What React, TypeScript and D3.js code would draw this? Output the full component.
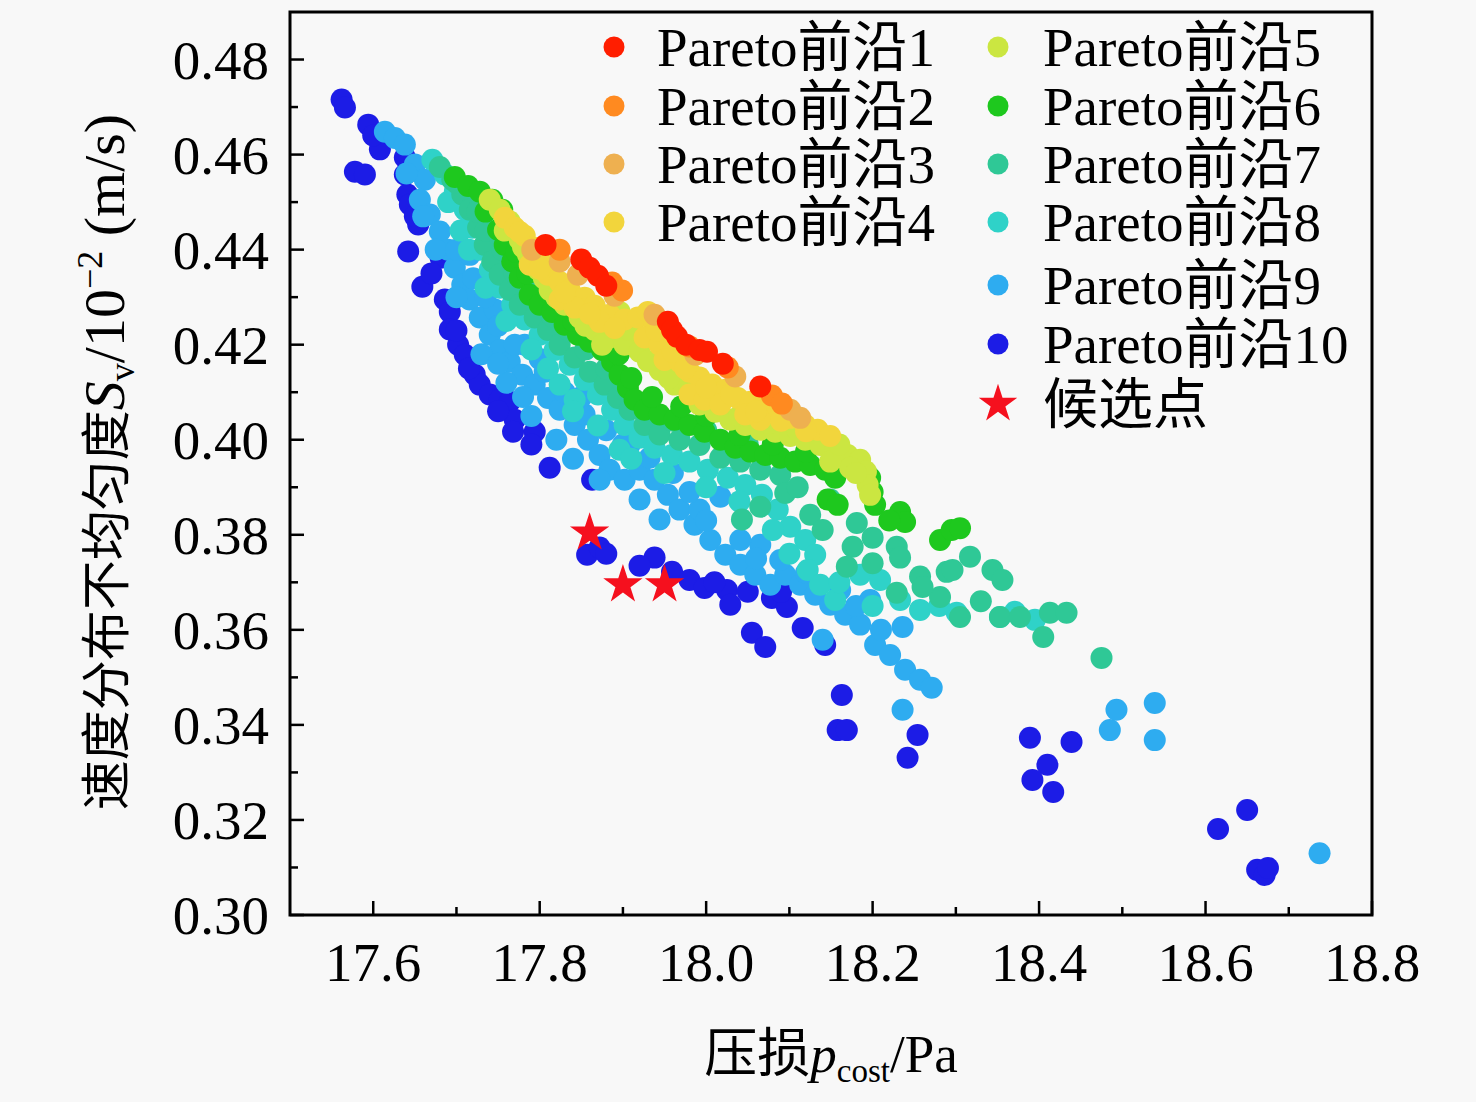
import * as d3 from 'd3';

// Pareto fronts: [pressure loss p_cost (Pa), velocity non-uniformity Sv (10^-2 m/s)]
const front1: [number, number][] = [
  [17.807, 0.441], [17.85, 0.4379], [17.86, 0.4362], [17.87, 0.4345], [17.88, 0.4324],
  [17.954, 0.4248], [17.959, 0.4231], [17.965, 0.4217], [17.976, 0.42], [17.992, 0.4189],
  [18.001, 0.4185], [18.02, 0.416], [18.065, 0.4112],
];
const front2: [number, number][] = [
  [17.824, 0.44], [17.899, 0.4314], [17.887, 0.4331], [17.98, 0.4196], [18.026, 0.4152],
  [18.079, 0.4093], [18.091, 0.4076],
];
const front3: [number, number][] = [
  [17.791, 0.44], [17.824, 0.4375], [17.846, 0.4347], [17.89, 0.4303], [17.938, 0.4263],
  [17.987, 0.4179], [18.035, 0.4133], [18.101, 0.4063], [18.113, 0.4046],
];
const front4: [number, number][] = [
  [17.758, 0.4467], [17.77, 0.4446], [17.782, 0.4429], [17.794, 0.4404], [17.806, 0.4383],
  [17.788, 0.4368], [17.81, 0.4347], [17.824, 0.4332], [17.836, 0.4315], [17.854, 0.4299],
  [17.824, 0.4295], [17.842, 0.4278], [17.866, 0.4282], [17.884, 0.4263], [17.872, 0.4248],
  [17.902, 0.4253], [17.918, 0.4257], [17.93, 0.4269], [17.938, 0.4242], [17.926, 0.4215],
  [17.944, 0.42], [17.95, 0.4168], [17.968, 0.4164], [17.98, 0.4143], [17.992, 0.4131],
  [18.007, 0.4116], [18.023, 0.4105], [18.038, 0.4088], [18.053, 0.408], [18.067, 0.4067],
  [18.083, 0.4059], [18.101, 0.4046], [18.119, 0.4031], [18.134, 0.4021], [18.149, 0.4008],
  [17.98, 0.4095], [17.998, 0.4084], [18.017, 0.4074], [18.065, 0.4042], [18.047, 0.4053],
  [17.776, 0.4437], [17.8, 0.436], [17.83, 0.431], [17.86, 0.4265], [17.89, 0.4235],
  [17.96, 0.4185], [17.975, 0.415], [18.0, 0.411], [18.03, 0.4095], [18.06, 0.406],
  [18.09, 0.404], [18.12, 0.4018], [17.94, 0.423],
];
const front5: [number, number][] = [
  [17.74, 0.4505], [17.752, 0.4484], [17.764, 0.4459], [17.776, 0.4421], [17.786, 0.4389],
  [17.798, 0.4358], [17.812, 0.4315], [17.83, 0.4284], [17.848, 0.4257], [17.866, 0.4231],
  [17.884, 0.4215], [17.902, 0.42], [17.92, 0.4185], [17.908, 0.4231], [17.896, 0.4269],
  [17.944, 0.4147], [17.962, 0.4116], [17.98, 0.4105], [17.992, 0.4074], [18.011, 0.4059],
  [18.029, 0.4042], [18.047, 0.4031], [18.065, 0.4021], [18.083, 0.4017], [18.101, 0.4008],
  [18.119, 0.4], [18.137, 0.3989], [18.155, 0.3979], [18.17, 0.3968], [18.185, 0.3958],
  [18.192, 0.3933], [18.194, 0.3905], [18.197, 0.3884], [18.173, 0.3941], [18.149, 0.3954],
  [17.758, 0.444], [17.78, 0.4405], [17.805, 0.434], [17.82, 0.43], [17.855, 0.424],
  [17.875, 0.42], [17.93, 0.4165], [17.955, 0.413], [18.0, 0.409], [18.04, 0.405],
  [18.075, 0.4035], [18.11, 0.402], [18.16, 0.399], [18.18, 0.393],
];
const front6: [number, number][] = [
  [17.698, 0.4553], [17.714, 0.4534], [17.728, 0.4522], [17.743, 0.4505], [17.755, 0.4484],
  [17.75, 0.4442], [17.758, 0.441], [17.767, 0.4375], [17.776, 0.4341], [17.788, 0.4305],
  [17.8, 0.4284], [17.815, 0.4269], [17.83, 0.4242], [17.846, 0.4221], [17.86, 0.4206],
  [17.875, 0.4189], [17.887, 0.4164], [17.896, 0.4137], [17.906, 0.4109], [17.914, 0.4084],
  [17.926, 0.4063], [17.944, 0.4053], [17.962, 0.4042], [17.98, 0.4031], [17.998, 0.4017],
  [18.017, 0.4], [18.035, 0.3983], [18.053, 0.3975], [18.071, 0.3968], [18.089, 0.3962],
  [18.107, 0.3954], [18.125, 0.3947], [18.143, 0.3937], [18.155, 0.392], [18.146, 0.3874],
  [18.158, 0.3863], [18.179, 0.3937], [18.197, 0.392], [18.2, 0.389], [18.203, 0.3863],
  [18.233, 0.3848], [18.239, 0.3827], [18.281, 0.3789], [18.295, 0.381], [18.305, 0.3814],
  [17.872, 0.4253], [17.89, 0.4231],
  [17.735, 0.448], [17.762, 0.444], [17.772, 0.4395], [17.785, 0.435], [17.81, 0.431],
  [17.84, 0.425], [17.87, 0.422], [17.895, 0.418], [17.91, 0.413], [17.935, 0.409],
  [17.97, 0.407], [18.0, 0.405], [18.04, 0.401], [18.08, 0.399], [18.12, 0.3975],
  [18.17, 0.396], [18.22, 0.383],
];
const front7: [number, number][] = [
  [17.68, 0.4574], [17.695, 0.4547], [17.707, 0.4516], [17.716, 0.4484], [17.726, 0.4446],
  [17.734, 0.441], [17.743, 0.4375], [17.752, 0.4347], [17.764, 0.4315], [17.776, 0.4284],
  [17.794, 0.4257], [17.81, 0.4231], [17.824, 0.42], [17.842, 0.4173], [17.86, 0.4143],
  [17.878, 0.4116], [17.894, 0.4088], [17.908, 0.4063], [17.926, 0.4031], [17.944, 0.4011],
  [17.968, 0.4], [17.992, 0.3989], [18.017, 0.3962], [18.041, 0.3954], [18.065, 0.3937],
  [18.089, 0.3926], [18.095, 0.3888], [18.065, 0.3859], [18.043, 0.3832], [18.125, 0.3842],
  [18.149, 0.3874], [18.181, 0.3825], [18.2, 0.3794], [18.229, 0.3775], [18.233, 0.3752],
  [18.257, 0.3712], [18.289, 0.3722], [18.317, 0.3754], [18.344, 0.3726], [18.356, 0.3705],
  [18.296, 0.3726], [18.305, 0.3627], [18.353, 0.3627], [18.377, 0.3627], [18.405, 0.3585],
  [18.413, 0.3636], [18.433, 0.3636], [18.475, 0.3541], [18.176, 0.3775], [18.169, 0.3733],
  [18.229, 0.3678], [18.281, 0.3669],
  [17.7, 0.454], [17.725, 0.448], [17.735, 0.444], [17.755, 0.44], [17.77, 0.435],
  [17.79, 0.431], [17.815, 0.426], [17.835, 0.423], [17.855, 0.419], [17.88, 0.415],
  [17.9, 0.412], [17.93, 0.408], [17.96, 0.404], [18.0, 0.402], [18.05, 0.399],
  [18.11, 0.39], [18.14, 0.381], [18.2, 0.374], [18.26, 0.369], [18.33, 0.366],
];
const front8: [number, number][] = [
  [17.671, 0.4589], [17.686, 0.4558], [17.698, 0.4522], [17.71, 0.4484], [17.719, 0.4446],
  [17.728, 0.44], [17.74, 0.4358], [17.752, 0.432], [17.767, 0.4284], [17.782, 0.4253],
  [17.8, 0.4221], [17.818, 0.4189], [17.836, 0.4158], [17.854, 0.4126], [17.87, 0.4095],
  [17.887, 0.4063], [17.902, 0.4031], [17.92, 0.4004], [17.938, 0.3983], [17.959, 0.3968],
  [17.98, 0.3954], [18.002, 0.3937], [18.026, 0.392], [18.047, 0.3905], [18.067, 0.3884],
  [18.086, 0.3853], [18.101, 0.3817], [18.119, 0.3789], [18.131, 0.3758], [18.122, 0.3726],
  [18.137, 0.3695], [18.155, 0.3663], [18.185, 0.3716], [18.209, 0.3705], [18.233, 0.3663],
  [18.257, 0.3642], [18.301, 0.3636], [18.353, 0.3627], [18.371, 0.3638], [18.395, 0.3621],
  [17.896, 0.3979], [17.842, 0.4084], [17.824, 0.4116],
  [17.69, 0.45], [17.705, 0.444], [17.715, 0.44], [17.735, 0.432], [17.76, 0.425],
  [17.79, 0.419], [17.81, 0.415], [17.84, 0.406], [17.87, 0.403], [17.91, 0.396],
  [17.95, 0.393], [18.0, 0.39], [18.04, 0.387], [18.08, 0.381], [18.1, 0.376],
  [18.16, 0.37], [18.2, 0.365], [18.28, 0.365],
];
const front9: [number, number][] = [
  [17.614, 0.4648], [17.626, 0.4635], [17.638, 0.4621], [17.65, 0.4579], [17.662, 0.4547],
  [17.656, 0.4505], [17.668, 0.4474], [17.68, 0.4438], [17.69, 0.44], [17.698, 0.4362],
  [17.707, 0.4326], [17.716, 0.4295], [17.728, 0.4257], [17.74, 0.4221], [17.752, 0.4189],
  [17.764, 0.4164], [17.779, 0.4137], [17.794, 0.4116], [17.81, 0.4088], [17.824, 0.4063],
  [17.842, 0.4031], [17.858, 0.4], [17.872, 0.3968], [17.884, 0.3937], [17.902, 0.3916],
  [17.92, 0.3937], [17.938, 0.3916], [17.954, 0.3884], [17.968, 0.3853], [17.986, 0.3821],
  [18.005, 0.3789], [18.023, 0.3758], [18.041, 0.3737], [18.059, 0.3716], [18.077, 0.3695],
  [18.095, 0.3716], [18.113, 0.3695], [18.131, 0.3674], [18.149, 0.3653], [18.167, 0.3632],
  [18.185, 0.3611], [18.203, 0.3568], [18.221, 0.3547], [18.239, 0.3516], [18.257, 0.3495],
  [18.271, 0.3478], [18.236, 0.3606], [18.236, 0.3432], [18.14, 0.3579], [18.017, 0.388],
  [17.944, 0.3832], [17.92, 0.3874], [17.872, 0.3916], [18.485, 0.3389], [18.493, 0.3432],
  [18.539, 0.3446], [18.539, 0.3368], [18.737, 0.313], [18.197, 0.3663], [18.089, 0.3747],
  [18.065, 0.3779], [17.716, 0.4389], [17.746, 0.4274], [17.782, 0.42], [17.806, 0.4143],
  [17.854, 0.4053], [17.908, 0.3989], [17.932, 0.3962], [17.992, 0.3853], [18.041, 0.3789],
  [18.161, 0.3684],
  [17.64, 0.456], [17.66, 0.447], [17.675, 0.44], [17.7, 0.44], [17.72, 0.434],
  [17.735, 0.43], [17.75, 0.424], [17.77, 0.42], [17.8, 0.417], [17.83, 0.41],
  [17.85, 0.409], [17.88, 0.402], [17.9, 0.399], [17.96, 0.393], [17.98, 0.389],
  [18.0, 0.383], [18.06, 0.375], [18.12, 0.372], [18.18, 0.365], [18.21, 0.36],
  [17.73, 0.418], [17.76, 0.412], [17.79, 0.405], [17.82, 0.4], [17.84, 0.396],
  [17.75, 0.416], [17.7, 0.43], [17.78, 0.409],
];
const front10: [number, number][] = [
  [17.562, 0.4716], [17.566, 0.4699], [17.594, 0.4663], [17.608, 0.4611], [17.578, 0.4564],
  [17.59, 0.4558], [17.638, 0.4594], [17.638, 0.4558], [17.641, 0.4516], [17.644, 0.4495],
  [17.654, 0.4453], [17.642, 0.4396], [17.681, 0.4383], [17.659, 0.4322], [17.686, 0.4295],
  [17.692, 0.4269], [17.692, 0.4232], [17.702, 0.42], [17.71, 0.4179], [17.722, 0.4137],
  [17.728, 0.4116], [17.74, 0.4095], [17.752, 0.4084], [17.764, 0.408], [17.77, 0.4042],
  [17.768, 0.4017], [17.794, 0.4017], [17.812, 0.3941], [17.863, 0.3916], [17.857, 0.3758],
  [17.872, 0.3773], [17.938, 0.3752], [17.959, 0.3722], [17.98, 0.3705], [17.998, 0.3688],
  [18.025, 0.3684], [18.029, 0.3653], [18.05, 0.368], [18.055, 0.3594], [18.071, 0.3564],
  [18.079, 0.3667], [18.097, 0.3648], [18.116, 0.3604], [18.143, 0.3568], [18.163, 0.3463],
  [18.158, 0.3389], [18.169, 0.3389], [18.242, 0.3331], [18.254, 0.3379], [18.389, 0.3373],
  [18.41, 0.3316], [18.392, 0.3284], [18.417, 0.3259], [18.439, 0.3364], [18.615, 0.3181],
  [18.65, 0.3221], [18.662, 0.3095], [18.671, 0.3084], [18.675, 0.3099],
  [17.6, 0.464], [17.65, 0.447], [17.67, 0.435], [17.7, 0.423], [17.715, 0.415],
  [17.75, 0.406], [17.79, 0.399], [17.88, 0.376], [17.92, 0.3735], [18.01, 0.37],
  [18.09, 0.368],
];
const candidates: [number, number][] = [[17.86, 0.3804], [17.9, 0.3695], [17.95, 0.3695]];

const fronts = [front1, front2, front3, front4, front5, front6, front7, front8, front9, front10];
const frontNames = ['Pareto前沿1', 'Pareto前沿2', 'Pareto前沿3', 'Pareto前沿4', 'Pareto前沿5',
  'Pareto前沿6', 'Pareto前沿7', 'Pareto前沿8', 'Pareto前沿9', 'Pareto前沿10'];
const frontColors = ['#ff1e00', '#ff8a20', '#eeb050', '#f2d53c', '#cbe641',
  '#1ec81e', '#2fc896', '#2fd2c8', '#2eacf0', '#1c1ce6'];
const candidateName = '候选点';

const xMajor = [17.6, 17.8, 18.0, 18.2, 18.4, 18.6, 18.8];
const xMinor = [17.7, 17.9, 18.1, 18.3, 18.5, 18.7];
const yMajor = [0.30, 0.32, 0.34, 0.36, 0.38, 0.40, 0.42, 0.44, 0.46, 0.48];
const yMinor = [0.31, 0.33, 0.35, 0.37, 0.39, 0.41, 0.43, 0.45, 0.47];

const W = 1476;
const H = 1102;
const left = 290, right = 1372, top = 12, bottom = 915;
const FONT = "'Liberation Serif', 'Noto Sans CJK SC', serif";

export default function App() {
  const x = d3.scaleLinear().domain([17.5, 18.8]).range([left, right]);
  const y = d3.scaleLinear().domain([0.30, 0.49]).range([bottom, top]);
  const star = d3.symbol(d3.symbolStar).size(480)();
  const legendStar = d3.symbol(d3.symbolStar).size(460)();

  // legend layout: 4 rows in column 1, the rest in column 2
  const legendRows1 = [47, 106, 164, 222];
  const legendRows2 = [47, 106, 164, 222, 285, 344, 404];

  return (
    <svg width={W} height={H} style={{ position: 'absolute', left: 0, top: 0, fontFamily: FONT }}>
      <rect width={W} height={H} fill="#f8f8f8" />

      {/* points, back to front */}
      {fronts.slice().reverse().map((f, ri) => {
        const i = fronts.length - 1 - ri;
        return (
          <g key={i} fill={frontColors[i]}>
            {f.map((d, j) => (
              <circle key={j} cx={x(d[0])} cy={y(d[1])} r={11} />
            ))}
          </g>
        );
      })}
      {candidates.map((d, j) => (
        <path key={j} d={star} transform={`translate(${x(d[0])},${y(d[1])})`} fill="#f5101e" />
      ))}

      {/* frame */}
      <rect x={left} y={top} width={right - left} height={bottom - top} fill="none" stroke="#000" strokeWidth={3} />

      {/* ticks */}
      {xMajor.map(t => (
        <g key={t}>
          <line x1={x(t)} x2={x(t)} y1={bottom} y2={bottom - 14} stroke="#000" strokeWidth={2.5} />
          <text x={x(t)} y={981} textAnchor="middle" fontSize={55}>{t.toFixed(1)}</text>
        </g>
      ))}
      {xMinor.map(t => (
        <line key={t} x1={x(t)} x2={x(t)} y1={bottom} y2={bottom - 8} stroke="#000" strokeWidth={2.5} />
      ))}
      {yMajor.map(t => (
        <g key={t}>
          <line x1={left} x2={left + 14} y1={y(t)} y2={y(t)} stroke="#000" strokeWidth={2.5} />
          <text x={269} y={y(t) + 19} textAnchor="end" fontSize={55}>{t.toFixed(2)}</text>
        </g>
      ))}
      {yMinor.map(t => (
        <line key={t} x1={left} x2={left + 8} y1={y(t)} y2={y(t)} stroke="#000" strokeWidth={2.5} />
      ))}

      {/* axis titles */}
      <text x={831} y={1072} textAnchor="middle" fontSize={53}>
        压损<tspan fontStyle="italic">p</tspan>
        <tspan fontSize={33} dy={10}>cost</tspan>
        <tspan dy={-10}>/Pa</tspan>
      </text>
      <text transform="translate(124,462) rotate(-90)" textAnchor="middle" fontSize={50}>
        速度分布不均匀度<tspan fontStyle="italic" fontSize={58}>S</tspan>
        <tspan fontSize={36} dy={10}>v</tspan>
        <tspan fontSize={58} dy={-10}>/10</tspan>
        <tspan fontSize={36} dy={-22}>−2</tspan>
        <tspan fontSize={58} dy={22}> (m/s)</tspan>
      </text>

      {/* legend */}
      {frontNames.map((name, i) => {
        const col2 = i >= 4;
        const cy = col2 ? legendRows2[i - 4] : legendRows1[i];
        const mx = col2 ? 998 : 614;
        const tx = col2 ? 1043 : 657;
        return (
          <g key={name}>
            <circle cx={mx} cy={cy} r={10.5} fill={frontColors[i]} />
            <text x={tx} y={cy + 19} fontSize={55}>{name}</text>
          </g>
        );
      })}
      <path d={legendStar} transform={`translate(998,${legendRows2[6]})`} fill="#f5101e" />
      <text x={1043} y={legendRows2[6] + 19} fontSize={55}>{candidateName}</text>
    </svg>
  );
}
